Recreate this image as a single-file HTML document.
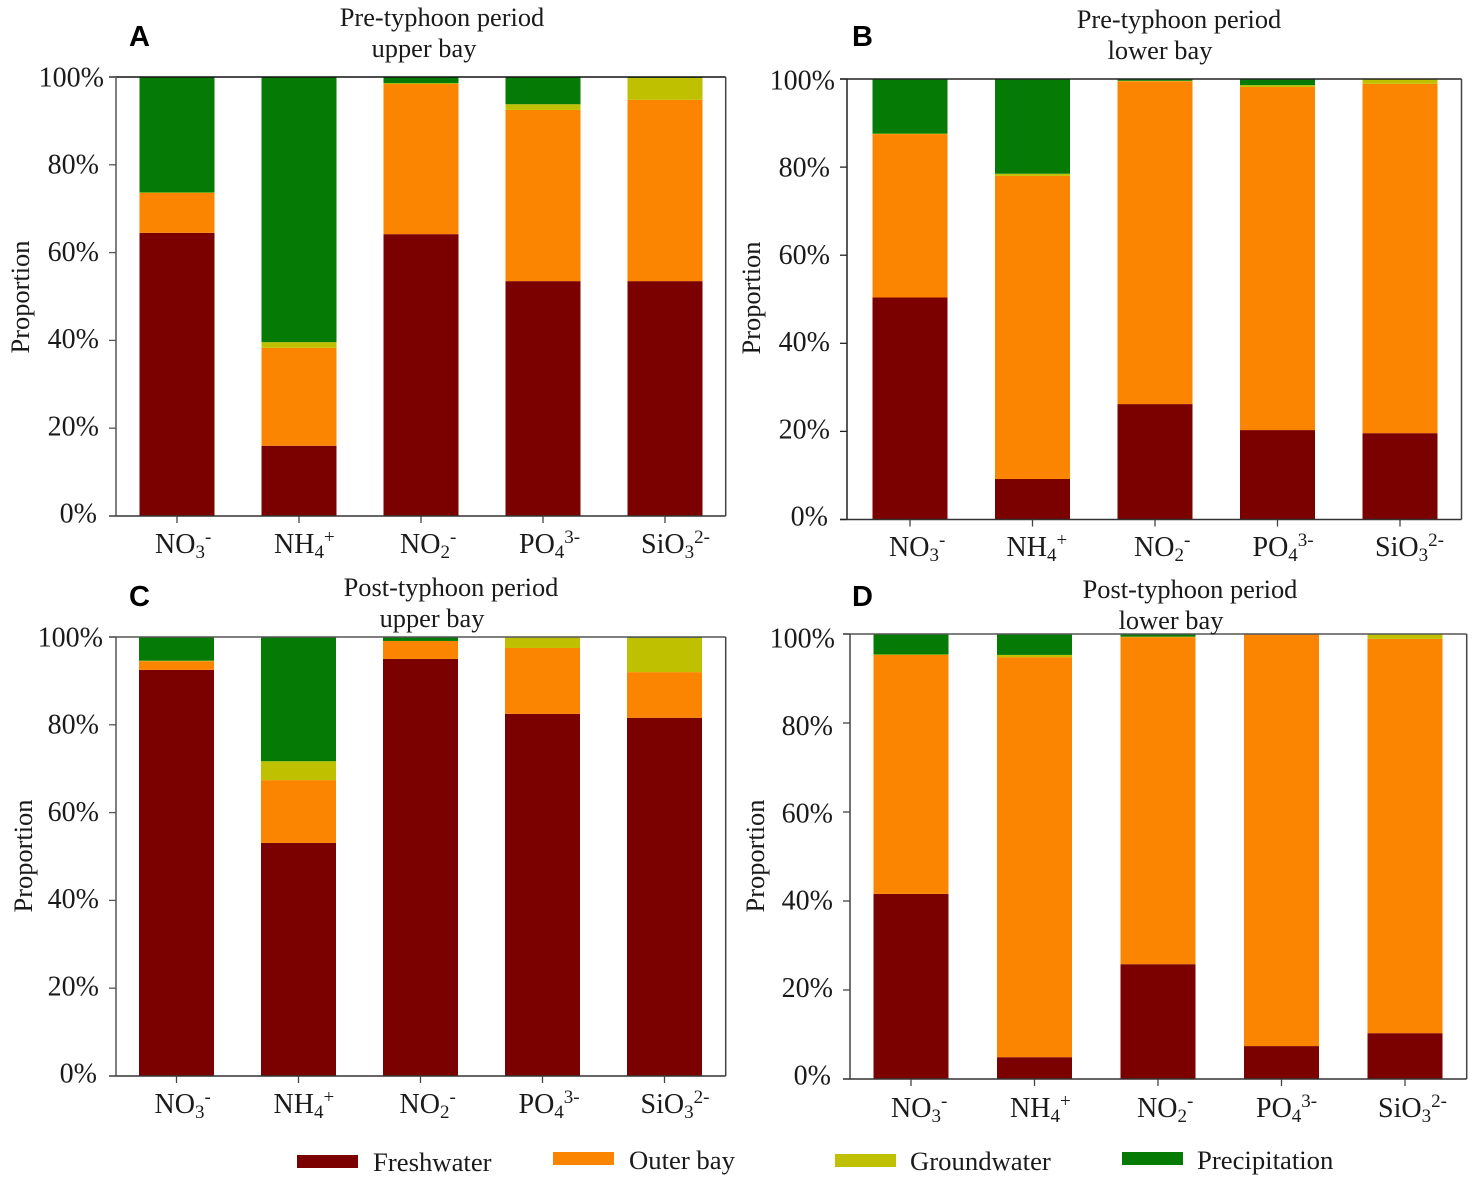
<!DOCTYPE html>
<html>
<head>
<meta charset="utf-8">
<title>Nutrient source proportions</title>
<style>
html,body{margin:0;padding:0;background:#fff;}
svg{display:block;}
text{font-family:"Liberation Serif",serif;fill:#1a1a1a;}
.letter{font-family:"Liberation Sans",sans-serif;font-weight:bold;fill:#000;font-size:29px;}
</style>
</head>
<body>
<svg id="figure" width="1476" height="1189" viewBox="0 0 1476 1189" xmlns="http://www.w3.org/2000/svg"></svg>
<script>
const categoryBase = ["NO", "NH", "NO", "PO", "SiO"];
const categorySub = ["3", "4", "2", "4", "3"];
const categorySup = ["-", "+", "-", "3-", "2-"];
const categoryIds = ["no3", "nh4", "no2", "po4", "sio3"];
const seriesNames = ["Freshwater", "Outer bay", "Groundwater", "Precipitation"];
const seriesIds = ["freshwater", "outer-bay", "groundwater", "precipitation"];
const seriesColors = ["#7b0000", "#fb8500", "#bfc000", "#057a05"];
const yTickValues = [0, 20, 40, 60, 80, 100];

const panelAFreshwater = [64.5, 16.0, 64.2, 53.5, 53.5];
const panelAOuter = [9.1, 22.3, 34.2, 39.0, 41.3];
const panelAGround = [0.1, 1.3, 0.2, 1.3, 5.0];
const panelAPrecip = [26.3, 60.4, 1.4, 6.2, 0.2];

const panelBFreshwater = [50.4, 9.2, 26.2, 20.3, 19.6];
const panelBOuter = [37.1, 68.8, 73.3, 77.9, 79.3];
const panelBGround = [0.1, 0.5, 0.1, 0.4, 1.1];
const panelBPrecip = [12.4, 21.5, 0.4, 1.4, 0.0];

const panelCFreshwater = [92.5, 53.1, 95.0, 82.5, 81.6];
const panelCOuter = [2.0, 14.3, 4.1, 15.0, 10.4];
const panelCGround = [0.1, 4.3, 0.0, 2.5, 7.8];
const panelCPrecip = [5.4, 28.3, 0.9, 0.0, 0.2];

const panelDFreshwater = [41.6, 4.9, 25.8, 7.4, 10.3];
const panelDOuter = [53.7, 89.9, 73.5, 92.6, 88.6];
const panelDGround = [0.1, 0.5, 0.1, 0.0, 1.1];
const panelDPrecip = [4.6, 4.7, 0.6, 0.0, 0.0];

const NS = "http://www.w3.org/2000/svg";
const root = document.getElementById("figure");

function mk(tag, parent, attrs) {
  const el = document.createElementNS(NS, tag);
  for (const k in attrs) el.setAttribute(k, attrs[k]);
  parent.appendChild(el);
  return el;
}

function drawPanel(p) {
  const g = mk("g", root, {});
  
  

  const yScale = v => p.y0 - (v / 100) * (p.y0 - p.y100);
  const yLabelScale = v => p.labelMid0 - (v / 100) * (p.labelMid0 - p.labelMid100);
  const xScale = i => p.xFirst + i * p.xStep;

  // bars
  p.series.forEach((vals, s) => {
    vals.forEach((v, i) => {
      let base = 0;
      for (let k = 0; k < s; k++) base += p.series[k][i];
      if (v <= 0) return;
      const top = yScale(base + v);
      const bot = yScale(base);
      const r = mk("rect", g, { x: xScale(i) - p.barW / 2, y: top, width: p.barW, height: bot - top, fill: seriesColors[s] });
      
      
    });
  });

  // frame
  const top = mk("line", g, { x1: p.axisX - 7, x2: p.right, y1: p.y100, y2: p.y100, stroke: p.topColor, "stroke-width": 1.5 });
  
  
  const rightLine = mk("line", g, { x1: p.right, x2: p.right, y1: p.y100, y2: p.y0, stroke: "#444", "stroke-width": 1.5 });
  
  
  const yAxis = mk("line", g, { x1: p.axisX, x2: p.axisX, y1: p.y100, y2: p.y0, stroke: p.axisColor, "stroke-width": 1.5 });
  
  
  const xAxis = mk("line", g, { x1: p.axisX - 7, x2: p.right, y1: p.y0, y2: p.y0, stroke: "#333", "stroke-width": 1.5 });
  
  

  // y ticks and labels
  yTickValues.forEach(t => {
    const y = yScale(t);
    const tick = mk("line", g, { x1: p.axisX - 7, x2: p.axisX, y1: y, y2: y, stroke: p.axisColor, "stroke-width": 1.3 });
    
    
    const gap = t === 100 ? p.labelGap100 : (t === 0 ? p.labelGap + 2 : p.labelGap);
    const lab = mk("text", g, { x: p.axisX - gap, y: yLabelScale(t) + 9.5, "text-anchor": "end", "font-size": 28 });
    lab.textContent = t + "%";
    
    
  });

  // x ticks and labels
  categoryBase.forEach((c, i) => {
    const x = xScale(i);
    const tick = mk("line", g, { x1: x, x2: x, y1: p.y0, y2: p.y0 + 7, stroke: "#444", "stroke-width": 1.3 });
    
    
    const lab = mk("text", g, { x: x + p.labelNudge[i], y: p.labelY, "font-size": 28 });
    
    
    const t1 = mk("tspan", lab, {});
    t1.textContent = c;
    const t2 = mk("tspan", lab, { dy: 5, "font-size": 19 });
    t2.textContent = categorySub[i];
    const t3 = mk("tspan", lab, { dy: -15, "font-size": 19 });
    t3.textContent = categorySup[i];
  });

  // y axis title
  const yt = mk("text", g, { transform: "translate(" + p.yTitleX + " " + p.yTitleY + ") rotate(-90)", "text-anchor": "middle", "font-size": 26.4 });
  yt.textContent = "Proportion";
  
  

  // chart titles
  const t1 = mk("text", g, { x: p.t1x, y: p.t1y, "text-anchor": "middle", "font-size": 26.4 });
  t1.textContent = p.title1;
  
  
  const t2 = mk("text", g, { x: p.t2x, y: p.t1y + 31, "text-anchor": "middle", "font-size": 26.4 });
  t2.textContent = p.title2;
  
  

  // panel letter
  const L = mk("text", g, { class: "letter", x: p.letterX, y: p.letterY });
  L.textContent = p.id.toUpperCase();
  
  
}

drawPanel({ id: "a", axisX: 116, right: 725.7, y0: 516, y100: 77, xFirst: 177, xStep: 122, barW: 75, labelY: 553, topColor: "#111", axisColor: "#555",
  labelMid0: 513, labelMid100: 77, labelGap: 17, labelGap100: 12, labelNudge: [-22, -25, -21, -24, -24],
  series: [panelAFreshwater, panelAOuter, panelAGround, panelAPrecip],
  yTitleX: 29, yTitleY: 297, title1: "Pre-typhoon period", title2: "upper bay", t1x: 442, t2x: 424, t1y: 26, letterX: 129, letterY: 46 });
drawPanel({ id: "b", axisX: 847, right: 1461.5, y0: 519.5, y100: 79, xFirst: 910, xStep: 122.5, barW: 75, labelY: 556, topColor: "#222", axisColor: "#222",
  labelMid0: 516, labelMid100: 80, labelGap: 17, labelGap100: 12, labelNudge: [-21, -26, -21, -25, -25],
  series: [panelBFreshwater, panelBOuter, panelBGround, panelBPrecip],
  yTitleX: 760, yTitleY: 298, title1: "Pre-typhoon period", title2: "lower bay", t1x: 1179, t2x: 1160, t1y: 28, letterX: 852, letterY: 46 });
drawPanel({ id: "c", axisX: 116, right: 725.7, y0: 1076, y100: 637, xFirst: 176.5, xStep: 122, barW: 75, labelY: 1113, topColor: "#555", axisColor: "#555",
  labelMid0: 1073, labelMid100: 637, labelGap: 17, labelGap100: 13, labelNudge: [-22, -25, -21, -24, -24],
  series: [panelCFreshwater, panelCOuter, panelCGround, panelCPrecip],
  yTitleX: 32, yTitleY: 856, title1: "Post-typhoon period", title2: "upper bay", t1x: 451, t2x: 432, t1y: 596, letterX: 129, letterY: 606 });
drawPanel({ id: "d", axisX: 850, right: 1466.7, y0: 1079, y100: 634, xFirst: 911, xStep: 123.5, barW: 75, labelY: 1117, topColor: "#555", axisColor: "#444",
  labelMid0: 1075, labelMid100: 638, labelGap: 17, labelGap100: 15, labelNudge: [-20, -24.5, -21, -25.5, -27],
  series: [panelDFreshwater, panelDOuter, panelDGround, panelDPrecip],
  yTitleX: 764, yTitleY: 856, title1: "Post-typhoon period", title2: "lower bay", t1x: 1190, t2x: 1171, t1y: 598, letterX: 852, letterY: 606 });

// legend
const legendSwatchX = [297, 553, 835, 1122];
const legendSwatchY = [1155, 1152, 1154, 1152];
const legendTextX = [373, 629, 910, 1197];
const legendTextY = [1171, 1169, 1170, 1169];
const legend = mk("g", root, {});


seriesNames.forEach((n, i) => {
  const entry = mk("g", legend, {});
  
  
  mk("rect", entry, { x: legendSwatchX[i], y: legendSwatchY[i], width: 61, height: 13, fill: seriesColors[i] });
  const t = mk("text", entry, { x: legendTextX[i], y: legendTextY[i], "font-size": 26.7 });
  t.textContent = n;
});
</script>
</body>
</html>
